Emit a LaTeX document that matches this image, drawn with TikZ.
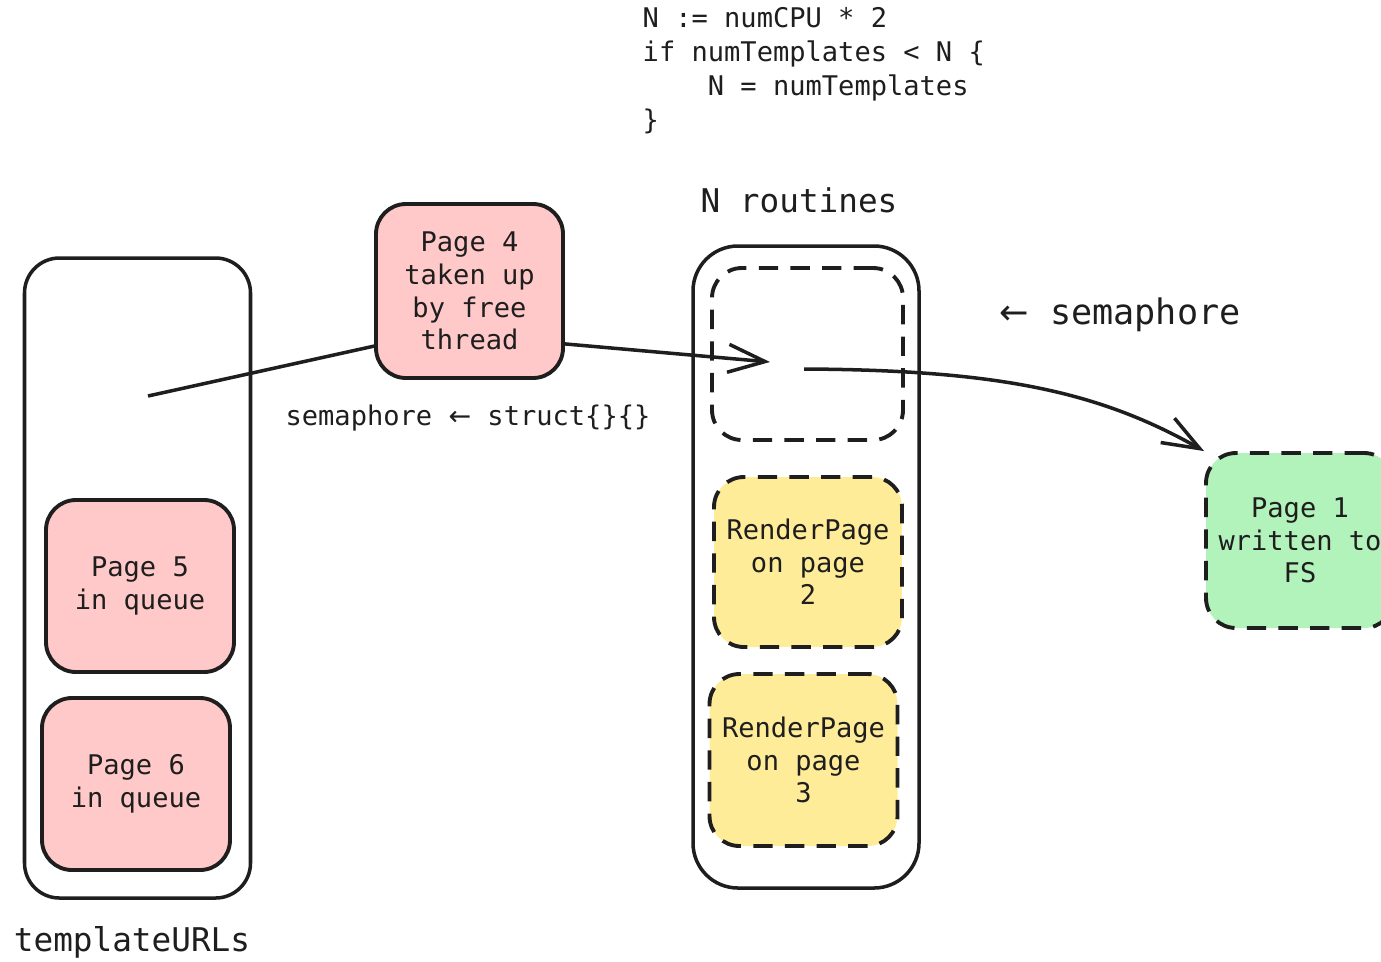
\documentclass[tikz,border=0pt]{standalone}
\usepackage{fontspec}
\setmonofont{DejaVu Sans Mono}
\newfontfamily\arrowfont{DejaVu Sans}
\usetikzlibrary{arrows.meta}

\definecolor{ink}{HTML}{1E1E1E}
\definecolor{pagered}{HTML}{FFC9C9}
\definecolor{pageyellow}{HTML}{FFEC99}
\definecolor{pagegreen}{HTML}{B2F2BB}

\newcommand{\larrow}{{\arrowfont ←}}

\begin{document}
\begin{tikzpicture}[
    every node/.style={
        text=ink,
        font=\ttfamily\fontsize{7.7}{9.3}\selectfont
    },
    holder/.style={
        draw=ink,
        line width=1pt,
        minimum width=2.26cm
    },
    pagebox/.style={
        draw=ink,
        line width=1.1pt,
        rounded corners=0.3cm,
        align=center,
        minimum width=1.88cm,
        minimum height=1.72cm
    },
    slotbox/.style={
        pagebox,
        dash pattern=on 5.5pt off 3.5pt
    },
    biglabel/.style={font=\ttfamily\fontsize{9.3}{11}\selectfont},
    arrow/.style={-{Straight Barb[length=3.7mm,width=2.8mm]}, line width=1pt, draw=ink}
]
\useasboundingbox (0,0) rectangle (13.81,-9.61);

% containers
\node (urls) [holder, rounded corners=0.35cm, minimum height=6.4cm] at (1.375,-5.78) {};
\node (routines) [holder, rounded corners=0.45cm, minimum height=6.42cm] at (8.06,-5.67) {};

\node (urlslabel) [biglabel] at (1.32,-9.42) {templateURLs};
\node (routineslabel) [biglabel] at (7.99,-2.0) {N routines};

% code
\node (code) [anchor=north west, align=left, inner sep=0pt,
    font=\ttfamily\fontsize{7.7}{9.6}\selectfont] at (6.42,-0.07)
    {N := numCPU * 2\\
     if numTemplates < N \{\\
     \hphantom{xxxx}N = numTemplates\\
     \}};

% queue
\node (page5) [pagebox, fill=pagered] at (1.40,-5.86) {Page 5\\in queue};
\node (page6) [pagebox, fill=pagered] at (1.36,-7.84) {Page 6\\in queue};

% routines
\node (slot) [slotbox, minimum width=1.91cm] at (8.075,-3.54) {};
\node (render2) [slotbox, fill=pageyellow, minimum height=1.70cm] at (8.08,-5.62)
    {RenderPage\\on page\\2};
\node (render3) [slotbox, fill=pageyellow] at (8.035,-7.60)
    {RenderPage\\on page\\3};

% taken and written
\node (page4) [pagebox, fill=pagered, minimum width=1.87cm, minimum height=1.74cm]
    at (4.695,-2.91) {Page 4\\taken up\\by free\\thread};
\node (page1) [slotbox, fill=pagegreen, minimum height=1.75cm] at (13.0,-5.405)
    {Page 1\\written to\\FS};

\node (semin) at (4.68,-4.18) {semaphore \larrow{} struct\{\}\{\}};
\node (semout) [font=\ttfamily\fontsize{10}{12}\selectfont] at (11.2,-3.15) {\larrow{} semaphore};

\coordinate (src) at (1.48,-3.96);
\coordinate (tip) at (7.70,-3.62);
\coordinate (exit) at (8.04,-3.69);

\draw [line width=1pt, draw=ink] (src) -- (page4.210);
\draw [arrow] (page4.331) -- (tip);
\draw [arrow] (exit) .. controls (10.0,-3.70) and (11.0,-3.92) .. (page1.north west);

\end{tikzpicture}
\end{document}
